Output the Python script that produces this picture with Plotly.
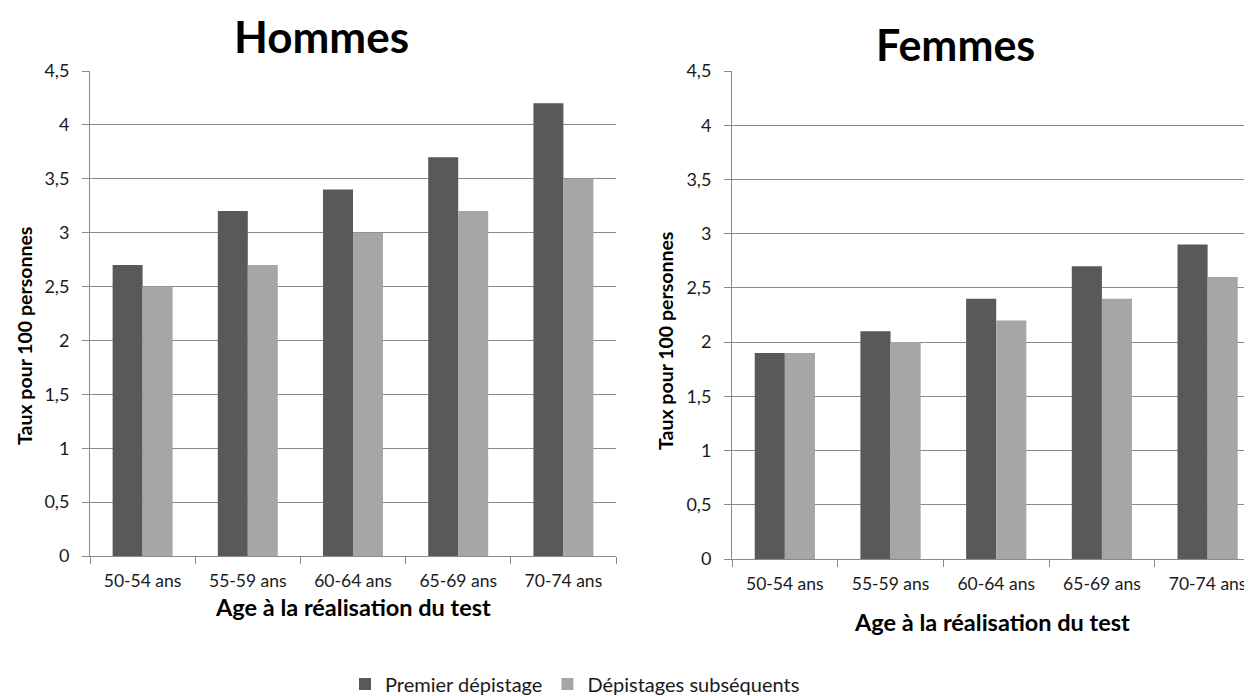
import plotly.graph_objects as go

categories = ["50-54 ans", "55-59 ans", "60-64 ans", "65-69 ans", "70-74 ans"]
hommes_premier = [2.7, 3.2, 3.4, 3.7, 4.2]
hommes_subseq = [2.5, 2.7, 3.0, 3.2, 3.5]
femmes_premier = [1.9, 2.1, 2.4, 2.7, 2.9]
femmes_subseq = [1.9, 2.0, 2.2, 2.4, 2.6]
series_names = ["Premier dépistage", "Dépistages subséquents"]
colors = ["#595959", "#A6A6A6"]
y_ticks = [0, 0.5, 1, 1.5, 2, 2.5, 3, 3.5, 4, 4.5]

# page body has an 8px default margin: figure is sized to fill the rest of the window
OFF = 8
W, H = 1252 - OFF, 696 - OFF
FONT = "Lato"
GRID = "#8A8A8A"
TXT = "#1a1a1a"


def px(x):
    return (x - OFF) / W


def py(y):
    return 1 - (y - OFF) / H


fig = go.Figure()
fig.add_trace(go.Bar(x=categories, y=hommes_premier, name=series_names[0],
                     marker=dict(color=colors[0], line=dict(width=0)),
                     xaxis="x", yaxis="y", legendgroup="a"))
fig.add_trace(go.Bar(x=categories, y=hommes_subseq, name=series_names[1],
                     marker=dict(color=colors[1], line=dict(width=0)),
                     xaxis="x", yaxis="y", legendgroup="b"))
fig.add_trace(go.Bar(x=categories, y=femmes_premier, name=series_names[0],
                     marker=dict(color=colors[0], line=dict(width=0)),
                     xaxis="x2", yaxis="y2", legendgroup="a", showlegend=False))
fig.add_trace(go.Bar(x=categories, y=femmes_subseq, name=series_names[1],
                     marker=dict(color=colors[1], line=dict(width=0)),
                     xaxis="x2", yaxis="y2", legendgroup="b", showlegend=False))


def xax(domain, anchor, rng):
    return dict(domain=domain, anchor=anchor, type="category", range=rng,
                automargin=False,
                showline=True, linecolor=GRID, linewidth=1,
                ticks="outside", tickson="boundaries", ticklen=7, tickcolor=GRID,
                ticklabelstandoff=9,
                tickfont=dict(family=FONT, size=17.5, color=TXT),
                showgrid=False, zeroline=False)


def yax(domain, anchor):
    return dict(domain=domain, anchor=anchor, range=[0, 4.5],
                automargin=False,
                tickvals=y_ticks, showline=True, linecolor=GRID, linewidth=1,
                ticks="outside", ticklen=7, tickcolor=GRID,
                ticklabelstandoff=9,
                tickfont=dict(family=FONT, size=18, color=TXT),
                showgrid=True, gridcolor=GRID, gridwidth=1, zeroline=False)


def ann(text, x, y, size, angle=0):
    return dict(text=text, x=px(x), y=py(y), xref="paper", yref="paper",
                xanchor="center", yanchor="middle", showarrow=False, textangle=angle,
                font=dict(family=FONT, size=size, color="#000000"))


fig.update_layout(
    width=W, height=H,
    margin=dict(l=0, r=0, t=0, b=0, autoexpand=False),
    paper_bgcolor="white", plot_bgcolor="white",
    separators=", ",
    barmode="group", bargap=0.43, bargroupgap=0,
    xaxis=xax([px(90), px(616)], "y", [-0.5, 4.5]),
    yaxis=yax([py(556), py(71)], "x"),
    xaxis2=xax([px(732), 1.0], "y2", [-0.5, 4.42]),
    yaxis2=yax([py(559), py(71)], "x2"),
    legend=dict(orientation="h", x=px(575), xanchor="center", y=py(684), yanchor="middle",
                font=dict(family=FONT, size=20, color=TXT),
                itemwidth=30, tracegroupgap=0, bgcolor="rgba(0,0,0,0)"),
    annotations=[
        ann("<b>Hommes</b>", 322, 36, 44),
        ann("<b>Femmes</b>", 955, 45, 43),
        ann("<b>Age à la réalisation du test</b>", 353, 607, 23.5),
        ann("<b>Age à la réalisation du test</b>", 992, 622, 23.5),
        ann("<b>Taux pour 100 personnes</b>", 24, 336, 19.5, -90),
        ann("<b>Taux pour 100 personnes</b>", 665, 341, 19.5, -90),
    ],
)

fig.write_html("out.html")
